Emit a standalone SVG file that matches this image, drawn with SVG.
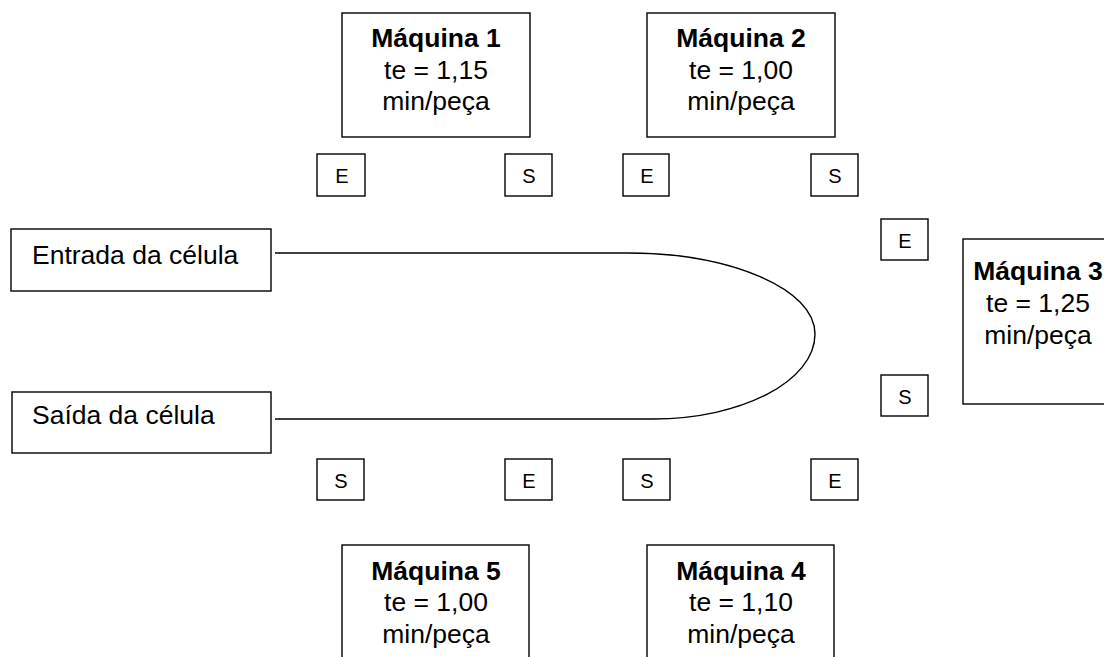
<svg xmlns="http://www.w3.org/2000/svg" width="1104" height="657" viewBox="0 0 1104 657">
<style>
.box{fill:#fff;stroke:#000;stroke-width:1.4}
.t{font-family:"Liberation Sans",Arial,sans-serif;font-size:26.5px;fill:#000}
.b{font-weight:bold}
.m{text-anchor:middle}
.s{font-family:"Liberation Sans",Arial,sans-serif;font-size:20px;fill:#000;text-anchor:middle}
.line{fill:none;stroke:#000;stroke-width:1.4}
</style>
<rect width="1104" height="657" fill="#fff"/>
<g id="maquina1">
<rect class="box" x="342" y="13" width="188" height="124"/>
<text class="t b m" x="436" y="47">Máquina 1</text>
<text class="t m" x="436" y="79">te = 1,15</text>
<text class="t m" x="436" y="110">min/peça</text>
</g>
<g id="maquina2">
<rect class="box" x="647" y="13" width="188" height="124"/>
<text class="t b m" x="741" y="47">Máquina 2</text>
<text class="t m" x="741" y="79">te = 1,00</text>
<text class="t m" x="741" y="110">min/peça</text>
</g>
<g id="maquina3">
<rect class="box" x="963" y="239" width="160" height="165"/>
<text class="t b m" x="1038" y="280">Máquina 3</text>
<text class="t m" x="1038" y="312">te = 1,25</text>
<text class="t m" x="1038" y="344">min/peça</text>
</g>
<g id="maquina4">
<rect class="box" x="647" y="545" width="187" height="130"/>
<text class="t b m" x="741" y="580">Máquina 4</text>
<text class="t m" x="741" y="611">te = 1,10</text>
<text class="t m" x="741" y="643">min/peça</text>
</g>
<g id="maquina5">
<rect class="box" x="342" y="545" width="187" height="130"/>
<text class="t b m" x="436" y="580">Máquina 5</text>
<text class="t m" x="436" y="611">te = 1,00</text>
<text class="t m" x="436" y="643">min/peça</text>
</g>
<g id="entrada">
<rect class="box" x="11" y="229" width="260" height="62"/>
<text class="t" x="32" y="264">Entrada da célula</text>
</g>
<g id="saida">
<rect class="box" x="12" y="392" width="259" height="61"/>
<text class="t" x="32" y="424">Saída da célula</text>
</g>
<g id="m1-e"><rect class="box" x="317" y="154" width="48" height="42"/><text class="s" x="342" y="183">E</text></g>
<g id="m1-s"><rect class="box" x="505" y="154" width="47" height="42"/><text class="s" x="529" y="183">S</text></g>
<g id="m2-e"><rect class="box" x="623" y="154" width="46" height="42"/><text class="s" x="647" y="183">E</text></g>
<g id="m2-s"><rect class="box" x="811" y="154" width="47" height="42"/><text class="s" x="835" y="183">S</text></g>
<g id="m3-e"><rect class="box" x="881" y="219" width="47" height="41"/><text class="s" x="905" y="248">E</text></g>
<g id="m3-s"><rect class="box" x="881" y="375" width="47" height="41"/><text class="s" x="905" y="404">S</text></g>
<g id="m5-s"><rect class="box" x="317" y="459" width="47" height="41"/><text class="s" x="341" y="488">S</text></g>
<g id="m5-e"><rect class="box" x="505" y="459" width="47" height="41"/><text class="s" x="529" y="488">E</text></g>
<g id="m4-s"><rect class="box" x="623" y="459" width="47" height="41"/><text class="s" x="647" y="488">S</text></g>
<g id="m4-e"><rect class="box" x="811" y="459" width="47" height="41"/><text class="s" x="835" y="488">E</text></g>
<g id="connectors">
<path class="line" d="M275,253 L627,253 C731,253 815,289 815,334 C815,381 742,419 653,419 L275,419"/>
</g>
</svg>
